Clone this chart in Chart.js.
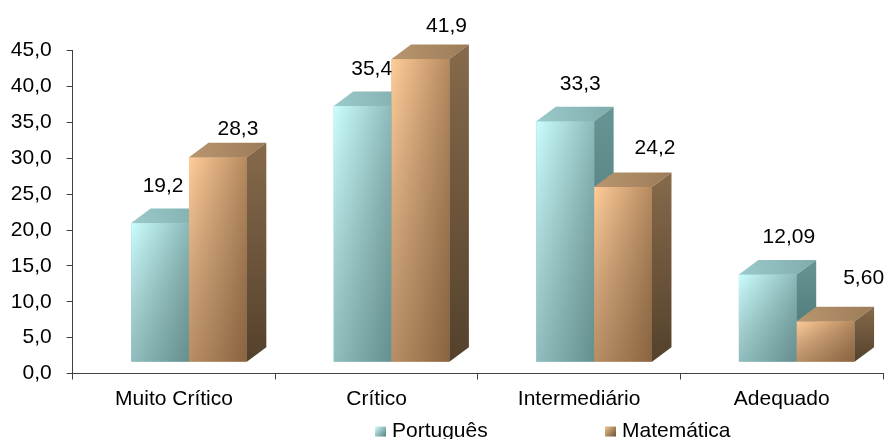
<!DOCTYPE html>
<html><head><meta charset="utf-8">
<script src="https://cdn.jsdelivr.net/npm/chart.js@4/dist/chart.umd.min.js"></script>
<style>html,body{margin:0;padding:0;background:#fff;}#wrap{width:886px;height:439px;}</style>
</head><body><div id="wrap"><canvas id="c" width="886" height="439"></canvas></div>
<script>
// ---- data ----
const categories = ['Muito Crítico', 'Crítico', 'Intermediário', 'Adequado'];
const seriesNames = ['Português', 'Matemática'];
const portugues = [19.2, 35.4, 33.3, 12.09];
const matematica = [28.3, 41.9, 24.2, 5.60];
const labelDecimals = [1, 1, 1, 2];
const yMin = 0, yMax = 45, yStep = 5;

// ---- styles ----
const FONT = {family: "'Liberation Sans', Arial, sans-serif", size: 21};
const AXIS = '#404040';
const TX = 15, TY = -11.8;      // 3D front-face projection shift
const DX = 19.5, DY = 14.5;     // 3D depth
const BAR_SCALE_MAX = 44.7;     // perspective: front faces are slightly taller than the wall scale
const PAL = [
  {front: ['#cbfdfd', '#8cbaba'], shade: 'rgba(20,55,55,0.32)', top: ['#9ccaca', '#7fabab'], side: ['#679494', '#47706f'], solid: '#8ab8b8', leg: ['#d2ffff', '#547f7f']},
  {front: ['#ffcc99', '#b68a5f'], shade: 'rgba(60,32,8,0.36)', top: ['#b8966f', '#9c7b58'], side: ['#866a4b', '#54412c'], solid: '#c89a6c', leg: ['#f4c492', '#6a5034']}
];

const fmt = (v, d) => v.toFixed(d).replace('.', ',');

const bars3d = {
  id: 'bars3d',
  beforeDatasetsDraw(chart) { chart.ctx.save(); chart.ctx.translate(TX, TY); },
  afterDatasetsDraw(chart) {
    const ctx = chart.ctx;
    const n = chart.data.labels.length;
    for (let i = 0; i < n; i++) {
      chart.data.datasets.forEach((ds, d) => {
        const el = chart.getDatasetMeta(d).data[i];
        const {x, y, base, width} = el.getProps(['x', 'y', 'base', 'width'], true);
        const x0 = x - width / 2, x1 = x + width / 2, p = PAL[d];
        // front
        let g = ctx.createLinearGradient(x0, 0, x1, 0);
        g.addColorStop(0, p.front[0]); g.addColorStop(1, p.front[1]);
        ctx.fillStyle = g; ctx.fillRect(x0, y, width, base - y);
        g = ctx.createLinearGradient(0, y, 0, base);
        g.addColorStop(0, 'rgba(0,0,0,0)'); g.addColorStop(1, p.shade);
        ctx.fillStyle = g; ctx.fillRect(x0, y, width, base - y);
        // top
        g = ctx.createLinearGradient(x0, y, x1 + DX, y - DY);
        g.addColorStop(0, p.top[0]); g.addColorStop(1, p.top[1]);
        ctx.fillStyle = g;
        ctx.beginPath(); ctx.moveTo(x0, y); ctx.lineTo(x1, y); ctx.lineTo(x1 + DX, y - DY); ctx.lineTo(x0 + DX, y - DY); ctx.closePath(); ctx.fill();
        // side
        g = ctx.createLinearGradient(0, y - DY, 0, base);
        g.addColorStop(0, p.side[0]); g.addColorStop(1, p.side[1]);
        ctx.fillStyle = g;
        ctx.beginPath(); ctx.moveTo(x1, y); ctx.lineTo(x1 + DX, y - DY); ctx.lineTo(x1 + DX, base - DY); ctx.lineTo(x1, base); ctx.closePath(); ctx.fill();
      });
    }
    ctx.restore();
    // value labels
    ctx.save();
    ctx.font = FONT.size + 'px ' + FONT.family;
    ctx.fillStyle = '#000'; ctx.textAlign = 'center'; ctx.textBaseline = 'alphabetic';
    chart.data.datasets.forEach((ds, d) => {
      chart.getDatasetMeta(d).data.forEach((el, i) => {
        const ax = el.x + TX, ay = el.y + TY;
        const cx = ax + (d === 0 ? 3 : 20) + 6 * i;
        const cy = ay - (d === 0 ? 39 : 30 + 5 * i);
        ctx.fillText(fmt(ds.data[i], labelDecimals[i]), cx, cy + 7.5);
      });
    });
    ctx.restore();
  }
};

const legendX = [375, 605];
const excelLegend = {
  id: 'excelLegend',
  afterDraw(chart) {
    const ctx = chart.ctx;
    ctx.save();
    ctx.font = FONT.size + 'px ' + FONT.family;
    ctx.textBaseline = 'alphabetic'; ctx.textAlign = 'left';
    chart.data.datasets.forEach((ds, d) => {
      const x = legendX[d], y = 426.5;
      const g = ctx.createLinearGradient(x, y, x + 11, y + 10);
      g.addColorStop(0, PAL[d].leg[0]); g.addColorStop(1, PAL[d].leg[1]);
      ctx.fillStyle = g; ctx.fillRect(x, y, 11, 10);
      ctx.fillStyle = '#000';
      ctx.fillText(ds.label, x + 17, 437);
    });
    ctx.restore();
  }
};

new Chart(document.getElementById('c'), {
  type: 'bar',
  data: {
    labels: categories,
    datasets: [
      {label: seriesNames[0], data: portugues, yAxisID: 'yb', backgroundColor: PAL[0].solid, borderWidth: 0, categoryPercentage: 0.571, barPercentage: 1},
      {label: seriesNames[1], data: matematica, yAxisID: 'yb', backgroundColor: PAL[1].solid, borderWidth: 0, categoryPercentage: 0.571, barPercentage: 1}
    ]
  },
  options: {
    responsive: false, animation: false, devicePixelRatio: 1,
    layout: {padding: {top: 50.7, left: 10, right: 3, bottom: 30}},
    plugins: {legend: {display: false}, tooltip: {enabled: false}},
    scales: {
      x: {
        offset: true,
        grid: {offset: true, drawOnChartArea: false, drawTicks: true, tickLength: 6, color: AXIS},
        border: {display: true, color: AXIS, width: 1},
        ticks: {font: FONT, color: '#000', padding: 7, maxRotation: 0, autoSkip: false},
        afterFit: s => { s.height = 35.5; }
      },
      y: {
        min: yMin, max: yMax,
        grid: {drawOnChartArea: false, drawTicks: true, tickLength: 6, color: AXIS},
        border: {display: true, color: AXIS, width: 1},
        ticks: {stepSize: yStep, font: FONT, color: '#000', padding: 15, callback: v => fmt(v, 1)},
        afterFit: s => { s.width = 62.7; }
      },
      yb: {
        display: false, min: yMin, max: BAR_SCALE_MAX
      }
    }
  },
  plugins: [bars3d, excelLegend]
});
</script></body></html>
